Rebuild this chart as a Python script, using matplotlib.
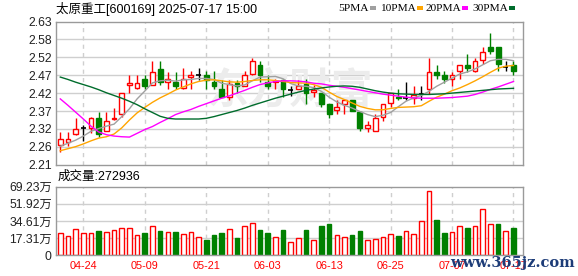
import matplotlib
matplotlib.use("Agg")
import matplotlib.pyplot as plt
import numpy as np

# daily k-line data, 60 trading days 04-21 .. 07-17
opens = [2.267, 2.278, 2.299, 2.317, 2.319, 2.347, 2.308, 2.345, 2.359, 2.443,
         2.434, 2.461, 2.443, 2.492, 2.454, 2.453, 2.434, 2.467, 2.472, 2.472,
         2.454, 2.433, 2.409, 2.451, 2.442, 2.476, 2.502, 2.454, 2.453, 2.459,
         2.430, 2.433, 2.446, 2.423, 2.420, 2.388, 2.369, 2.388, 2.400, 2.366,
         2.319, 2.308, 2.349, 2.390, 2.409, 2.407, 2.407, 2.417, 2.433, 2.482,
         2.472, 2.462, 2.484, 2.502, 2.484, 2.516, 2.554, 2.555, 2.498, 2.501]
highs = [2.306, 2.305, 2.347, 2.327, 2.349, 2.366, 2.366, 2.376, 2.420, 2.472,
         2.472, 2.472, 2.514, 2.514, 2.482, 2.482, 2.493, 2.484, 2.493, 2.484,
         2.484, 2.459, 2.459, 2.459, 2.484, 2.523, 2.515, 2.472, 2.461, 2.461,
         2.440, 2.459, 2.461, 2.444, 2.420, 2.388, 2.400, 2.399, 2.400, 2.367,
         2.339, 2.359, 2.388, 2.420, 2.432, 2.454, 2.440, 2.440, 2.523, 2.503,
         2.484, 2.482, 2.501, 2.534, 2.523, 2.554, 2.596, 2.555, 2.513, 2.513]
lows = [2.246, 2.264, 2.298, 2.280, 2.303, 2.290, 2.308, 2.342, 2.350, 2.421,
        2.433, 2.432, 2.443, 2.443, 2.433, 2.432, 2.433, 2.433, 2.459, 2.432,
        2.432, 2.409, 2.400, 2.421, 2.442, 2.474, 2.454, 2.432, 2.432, 2.409,
        2.412, 2.432, 2.388, 2.409, 2.380, 2.347, 2.359, 2.359, 2.367, 2.308,
        2.307, 2.308, 2.339, 2.378, 2.400, 2.400, 2.388, 2.400, 2.417, 2.462,
        2.451, 2.442, 2.462, 2.482, 2.482, 2.506, 2.535, 2.484, 2.484, 2.474]
closes = [2.285, 2.284, 2.316, 2.317, 2.347, 2.300, 2.337, 2.348, 2.419, 2.451,
          2.451, 2.442, 2.481, 2.454, 2.461, 2.442, 2.460, 2.472, 2.472, 2.459,
          2.442, 2.409, 2.446, 2.442, 2.472, 2.514, 2.472, 2.442, 2.456, 2.433,
          2.430, 2.441, 2.421, 2.430, 2.388, 2.359, 2.379, 2.399, 2.368, 2.319,
          2.326, 2.347, 2.388, 2.420, 2.405, 2.407, 2.413, 2.417, 2.481, 2.474,
          2.461, 2.472, 2.501, 2.494, 2.513, 2.542, 2.544, 2.505, 2.498, 2.484]

ma5 = [2.264, 2.273, 2.282, 2.294, 2.308, 2.316, 2.323, 2.329, 2.351, 2.374,
       2.403, 2.426, 2.450, 2.456, 2.458, 2.455, 2.459, 2.460, 2.463, 2.463,
       2.460, 2.449, 2.445, 2.441, 2.444, 2.456, 2.467, 2.468, 2.469, 2.462,
       2.448, 2.441, 2.440, 2.436, 2.425, 2.408, 2.394, 2.384, 2.376, 2.366,
       2.357, 2.351, 2.355, 2.363, 2.380, 2.396, 2.406, 2.413, 2.425, 2.440,
       2.452, 2.464, 2.476, 2.482, 2.491, 2.503, 2.515, 2.519, 2.519, 2.515]
ma10 = [2.251, 2.257, 2.263, 2.271, 2.280, 2.288, 2.292, 2.300, 2.318, 2.341,
        2.362, 2.378, 2.393, 2.406, 2.417, 2.429, 2.438, 2.447, 2.454, 2.458,
        2.459, 2.456, 2.453, 2.452, 2.454, 2.457, 2.459, 2.459, 2.457, 2.454,
        2.451, 2.450, 2.449, 2.445, 2.437, 2.423, 2.410, 2.401, 2.391, 2.381,
        2.375, 2.371, 2.371, 2.375, 2.378, 2.379, 2.380, 2.383, 2.396, 2.408,
        2.417, 2.427, 2.435, 2.445, 2.456, 2.468, 2.481, 2.493, 2.499, 2.501]
ma20 = [2.403, 2.384, 2.364, 2.344, 2.323, 2.306, 2.298, 2.294, 2.292, 2.291,
        2.302, 2.313, 2.322, 2.334, 2.345, 2.357, 2.365, 2.372, 2.381, 2.389,
        2.397, 2.405, 2.412, 2.420, 2.428, 2.437, 2.445, 2.450, 2.454, 2.456,
        2.456, 2.455, 2.453, 2.449, 2.447, 2.443, 2.440, 2.437, 2.433, 2.429,
        2.425, 2.421, 2.417, 2.414, 2.411, 2.408, 2.406, 2.405, 2.405, 2.405,
        2.406, 2.407, 2.409, 2.411, 2.416, 2.423, 2.431, 2.438, 2.446, 2.454]
ma30 = [2.467, 2.460, 2.452, 2.445, 2.438, 2.430, 2.421, 2.413, 2.405, 2.396,
        2.386, 2.374, 2.363, 2.352, 2.346, 2.344, 2.344, 2.344, 2.344, 2.346,
        2.351, 2.357, 2.363, 2.369, 2.376, 2.384, 2.391, 2.398, 2.405, 2.411,
        2.417, 2.423, 2.428, 2.432, 2.435, 2.438, 2.440, 2.441, 2.440, 2.437,
        2.432, 2.427, 2.423, 2.420, 2.418, 2.417, 2.416, 2.416, 2.416, 2.417,
        2.418, 2.420, 2.422, 2.424, 2.426, 2.428, 2.430, 2.432, 2.433, 2.434]

# volume in 万 (10k), 1 = red (up) bar, 0 = green bar
volume = [22.2, 19.5, 26.6, 22.2, 22.2, 24.5, 23.5, 25.5, 27.2, 27.2,
          20.2, 22.5, 29.2, 24.5, 23.2, 23.5, 21.2, 23.2, 18.1, 15.5,
          20.2, 22.2, 26.6, 17.5, 29.2, 32.3, 25.5, 22.5, 18.1, 25.5,
          13.1, 17.1, 25.5, 15.5, 29.6, 31.6, 20.2, 18.1, 20.5, 24.5,
          15.5, 16.5, 18.5, 21.2, 19.5, 24.5, 21.5, 34.6, 64.9, 35.6,
          22.5, 23.5, 29.2, 27.6, 29.2, 46.4, 31.3, 31.3, 24.5, 27.2936]
vol_up = [1, 1, 1, 1, 1, 0, 1, 1, 1, 1,
          1, 0, 1, 0, 1, 0, 1, 1, 1, 0,
          0, 0, 1, 0, 1, 1, 0, 0, 1, 0,
          1, 1, 0, 1, 0, 0, 1, 1, 0, 0,
          1, 1, 1, 1, 0, 1, 1, 1, 1, 0,
          0, 1, 1, 0, 1, 1, 1, 0, 1, 0]

date_pos = [3, 11, 19, 27, 35, 43, 51, 59]
date_labels = ["04-24", "05-09", "05-21", "06-03", "06-13", "06-25", "07-07", "07-17"]
price_labels = ["2.21", "2.26", "2.32", "2.37", "2.42", "2.47", "2.52", "2.58", "2.63"]
vol_labels = ["0", "17.31万", "34.61万", "51.92万", "69.23万"]
ma_names = ["5PMA", "10PMA", "20PMA", "30PMA"]
ma_colors = ["#a0a0a0", "#ffa500", "#ff00ff", "#006c2c"]

title = "太原重工[600169] 2025-07-17 15:00"
vol_title = "成交量:272936"

RED = "#ff0000"
GREEN = "#008000"
GRID = "#cfcfcf"
FRAME = "#9a9a9a"
cjk = ["Liberation Sans", "Noto Sans CJK SC"]

W, H = 578, 276
fig = plt.figure(figsize=(W / 100, H / 100), dpi=100)
fig.patch.set_facecolor("white")

def box(l, t, r, b):
    return [l / W, 1 - b / H, (r - l) / W, (b - t) / H]

ax = fig.add_axes(box(56, 21.5, 522.7, 164.7))
axv = fig.add_axes(box(56, 186.7, 522.7, 255.3))

n = len(closes)
x = np.arange(n)
xlim = (-0.56, 60.2)

for a in (ax, axv):
    a.set_xlim(*xlim)
    for s in a.spines.values():
        s.set_color(FRAME)
        s.set_linewidth(1.0)
    a.tick_params(length=0)
    for p in date_pos:
        a.axvline(p, color=GRID, lw=1, ls=(0, (3, 3)), zorder=0)

# ---- price panel ----
pt = np.linspace(2.21, 2.63, len(price_labels))
ax.set_ylim(2.21, 2.63)
ax.set_yticks(pt)
ax.set_yticklabels(price_labels, fontsize=8.8, color="#222222", family="Liberation Sans")
ax.tick_params(axis="y", pad=3)
ax.set_xticks([])
for v in pt[1:-1]:
    ax.axhline(v, color=GRID, lw=1, zorder=0)

ax.text(0.5, 0.52, "东方财富", transform=ax.transAxes, ha="center", va="center",
        fontsize=30, color="#ececec", weight="bold", family="Noto Sans CJK SC", zorder=0.5)

for i in range(n):
    o, h, l, c = opens[i], highs[i], lows[i], closes[i]
    if c > o:
        col, face = RED, "white"
    elif c < o:
        col, face = GREEN, GREEN
    else:
        col, face = "black", "black"
    ax.vlines(i, l, h, color=col, lw=1, zorder=2)
    if c == o:
        ax.hlines(c, i - 0.33, i + 0.33, color=col, lw=1.2, zorder=3)
    else:
        ax.bar(i, abs(c - o), bottom=min(o, c), width=0.62, facecolor=face,
               edgecolor=col, lw=1, zorder=3)

for ma, colr in zip([ma5, ma10, ma20, ma30], ma_colors):
    ax.plot(x, ma, color=colr, lw=1, zorder=4)

# ---- volume panel ----
vt = np.linspace(0, 69.23, len(vol_labels))
axv.set_ylim(0, 69.23)
axv.set_yticks(vt)
axv.set_yticklabels(vol_labels, fontsize=8.8, color="#222222", family=cjk)
axv.tick_params(axis="y", pad=3)
for v in vt[1:-1]:
    axv.axhline(v, color=GRID, lw=1, zorder=0)
for i in range(n):
    if vol_up[i]:
        axv.bar(i, volume[i], width=0.6, facecolor="white", edgecolor=RED, lw=1, zorder=2)
    else:
        axv.bar(i, volume[i], width=0.6, facecolor=GREEN, edgecolor=GREEN, lw=1, zorder=2)
axv.set_xticks(date_pos)
axv.set_xticklabels(date_labels, fontsize=7.8, color=RED, family="Liberation Sans")
axv.tick_params(axis="x", pad=4)

# ---- header texts ----
fig.text(56 / W, 1 - 8.5 / H, title, fontsize=9, family=cjk, va="center", ha="left")
fig.text(58 / W, 1 - 177 / H, vol_title, fontsize=9, family=cjk, va="center", ha="left")

# legend: label then colour swatch
leg_x = [338, 380, 425, 472]
renderer = fig.canvas.get_renderer()
for name, colr, lx in zip(ma_names, ma_colors, leg_x):
    t = fig.text(lx / W, 1 - 8.5 / H, name, fontsize=8.2, family="Liberation Serif",
                 va="center", ha="left", color="black")
    bb = t.get_window_extent(renderer)
    sw = bb.x1 + 1.5
    fig.patches.append(plt.Rectangle((sw / W, 1 - 10 / H), 6 / W, 3.5 / H,
                                     transform=fig.transFigure, facecolor=colr,
                                     edgecolor="none"))

fig.text(512 / W, 1 - 263 / H, "www.365jz.com", fontsize=10.5, family="DejaVu Serif",
         weight="bold", color="#1d3c78", ha="center", va="center", zorder=10)

fig.savefig("out.png", dpi=100)
